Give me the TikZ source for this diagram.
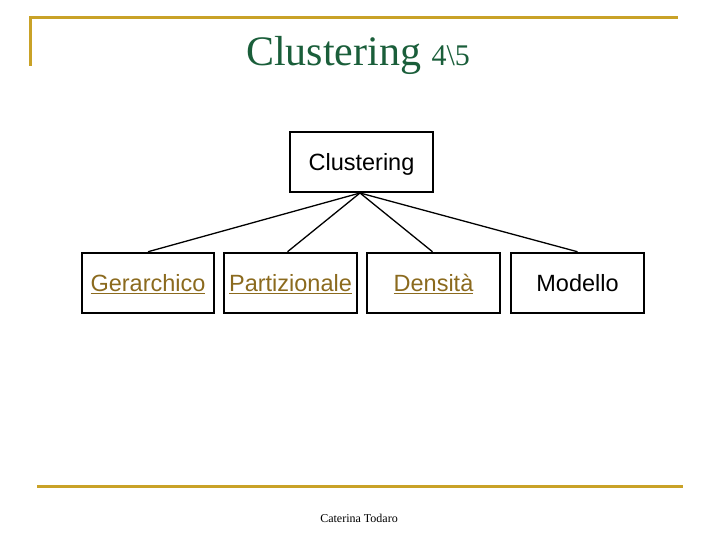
\documentclass[tikz,border=0pt]{standalone}
\usepackage{fontspec}
\setmainfont{Liberation Serif}
\setsansfont{Liberation Sans}
\definecolor{gold}{HTML}{C9A227}
\definecolor{tgreen}{HTML}{1A5E3A}
\definecolor{link}{HTML}{8B6A1E}
\begin{document}
\begin{tikzpicture}[x=1pt,y=-1pt,
  box/.style={draw,line width=2.5pt,minimum width=#1,minimum height=60pt,font=\sffamily\fontsize{23.5}{26}\selectfont,inner sep=0pt,text depth=0pt},
  conn/.style={line width=1.3pt}]
\useasboundingbox (0,0) rectangle (720,540);
\draw[gold,line width=3pt] (30,66) -- (30,18) -- (678,18);
\draw[gold,line width=3pt] (37,486) -- (683,486);
\node (title) at (358,55) {\color{tgreen}\fontsize{42}{46}\selectfont Clustering \fontsize{30}{33}\selectfont 4\textbackslash 5};
\node[box=143pt] (root) at (361.5,162) {Clustering};
\node[box=132pt] (g) at (148,283) {\color{link}\underline{Gerarchico}};
\node[box=133pt] (p) at (290.5,283) {\color{link}\underline{Partizionale}};
\node[box=133pt] (d) at (433.5,283) {\color{link}\underline{Densità}};
\node[box=133pt] (m) at (577.5,283) {Modello};
\coordinate (r) at (360,193);
\draw[conn] (r) -- (g.north);
\draw[conn] (r) -- ([xshift=-3pt]p.north);
\draw[conn] (r) -- ([xshift=-1pt]d.north);
\draw[conn] (r) -- (m.north);
\node (foot) at (359,518) {\fontsize{12}{14}\selectfont Caterina Todaro};
\end{tikzpicture}
\end{document}
